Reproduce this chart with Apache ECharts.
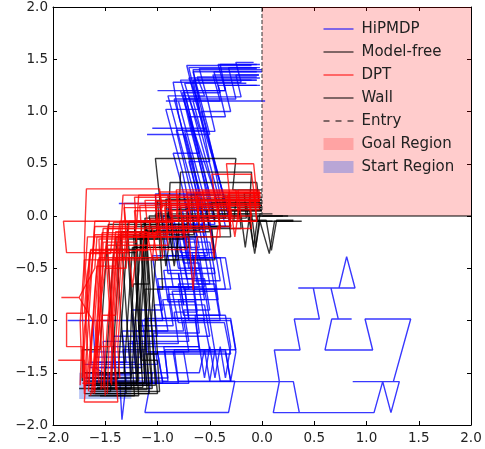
<!DOCTYPE html>
<html>
<head>
<meta charset="utf-8">
<script src="https://cdn.jsdelivr.net/npm/echarts@6/dist/echarts.min.js"></script>
<style>
html,body{margin:0;padding:0;background:#fff;}
#chart{width:485px;height:449px;}
</style>
</head>
<body>
<div id="chart"></div>
<script>
// ---- tick values ----
const xTicks = [-2, -1.5, -1, -0.5, 0, 0.5, 1, 1.5, 2];
const yTicks = [-2, -1.5, -1, -0.5, 0, 0.5, 1, 1.5, 2];

// ---- regions and walls ----
const goalRegion = [0, 0, 2, 2];          // x0, y0, x1, y1
const startRegion = [-1.75, -1.75, -1.25, -1.5];
const wallLine = [[0, 0], [2, 0]];
const entryLine = [[0, 0], [0, 2]];

// ---- HiPMDP trajectories ----
const hipmdpRuns = [
  [[-1.62,-1.58],[-0.9,-1.58],[-0.93,-1.28],[-0.5,-1.28],[-0.56,-0.98],[-0.85,-0.98],[-0.9,-0.68],[-0.6,-0.68],[-0.66,-0.38],[-0.52,-0.38],[-0.58,-0.08],[-0.45,-0.08],[-0.52,0.22],[-0.6,0.52],[-0.68,0.82],[-0.75,1.12],[-0.25,1.12],[-0.32,1.42],[-0.02,1.42]],
  [[-1.55,-1.5],[-1.2,-1.5],[-1.24,-1.2],[-0.7,-1.2],[-0.75,-0.9],[-0.5,-0.9],[-0.55,-0.6],[-0.72,-0.6],[-0.78,-0.3],[-0.6,-0.3],[-0.66,0.0],[-0.4,0.0],[-0.48,0.3],[-0.58,0.6],[-0.68,0.9],[-0.78,1.2],[-1.0,1.2],[-0.35,1.2],[-0.42,1.45],[-0.05,1.45]],
  [[-1.7,-1.62],[-1.1,-1.62],[-1.13,-1.32],[-0.3,-1.32],[-0.36,-1.02],[-0.8,-1.02],[-0.86,-0.72],[-0.45,-0.72],[-0.5,-0.42],[-0.7,-0.42],[-0.76,-0.12],[-0.5,-0.12],[-0.58,0.18],[-0.66,0.48],[-0.74,0.78],[-1.1,0.78],[-0.5,0.78],[-0.58,1.08],[-0.66,1.38],[0.0,1.38]],
  [[-1.6,-1.45],[-1.36,-1.6],[-1.34,-1.95],[-1.3,-1.6],[-1.0,-1.6],[-1.04,-1.3],[-0.45,-1.3],[-0.5,-1.0],[-0.7,-1.0],[-0.74,-0.7],[-0.35,-0.7],[-0.4,-0.4],[-0.6,-0.4],[-0.66,-0.1],[-0.35,-0.1],[-0.42,0.2],[-0.5,0.5],[-0.58,0.8],[-0.66,1.1],[-0.05,1.1],[0.03,1.1]],
  [[-1.65,-1.5],[-1.05,-1.5],[-1.12,-1.88],[-0.32,-1.88],[-0.26,-1.58],[-0.8,-1.58],[-0.84,-1.28],[-0.25,-1.28],[-0.3,-0.98],[-0.62,-0.98],[-0.66,-0.68],[-0.85,-0.68],[-0.9,-0.38],[-0.7,-0.38],[-0.75,-0.08],[-0.55,-0.08],[-0.6,0.22],[-0.68,0.52],[-0.76,0.82],[-0.84,1.12],[-0.6,1.12],[-0.65,1.3],[-0.05,1.3]],
  [[-1.65,-1.3],[-1.0,-1.3],[-0.95,-1.585],[0.30,-1.585],[0.357,-1.882],[0.108,-1.882],[0.166,-1.585],[0.118,-1.282],[0.364,-1.282],[0.309,-0.986],[0.549,-0.986],[0.491,-0.689],[0.347,-0.689],[0.89,-0.689],[0.81,-0.389],[0.737,-0.689],[0.66,-0.689],[0.73,-0.986],[0.858,-0.986],[0.667,-0.986],[0.603,-1.282],[1.059,-1.282],[0.986,-0.986],[1.423,-0.986],[1.257,-1.585],[0.868,-1.585],[1.314,-1.585],[1.234,-1.882],[1.155,-1.585],[1.072,-1.882],[0.204,-1.882]],
  [[-1.6,-1.4],[-1.3,-1.4],[-1.34,-1.1],[-0.9,-1.1],[-0.95,-0.8],[-0.55,-0.8],[-0.6,-0.5],[-0.8,-0.5],[-0.85,-0.2],[-0.62,-0.2],[-0.7,0.1],[-0.35,0.1],[-0.42,0.4],[-0.5,0.7],[-0.58,1.0],[-0.3,1.0],[-0.36,1.25],[-0.02,1.25]],
  [[-1.7,-1.55],[-1.4,-1.55],[-1.44,-1.25],[-0.6,-1.25],[-0.55,-1.55],[-0.5,-1.25],[-0.45,-1.55],[-0.4,-1.25],[-0.35,-1.55],[-0.3,-1.25],[-0.35,-0.95],[-0.75,-0.95],[-0.8,-0.65],[-0.5,-0.65],[-0.55,-0.35],[-0.78,-0.35],[-0.84,-0.05],[-0.6,-0.05],[-0.66,0.25],[-0.74,0.55],[-0.82,0.85],[-0.9,1.15],[-0.55,1.15],[-0.62,1.33],[-0.05,1.33]],
  [[-1.6,-1.3],[-1.62,-1.0],[-1.86,-1.0],[-0.55,-1.0],[-0.6,-0.7],[-0.3,-0.7],[-0.35,-0.4],[-0.72,-0.4],[-0.78,-0.1],[-0.5,-0.1],[-0.56,0.2],[-0.64,0.5],[-0.72,0.8],[-0.8,1.1],[-0.92,1.1],[-0.4,1.1],[-0.47,1.35],[-0.03,1.35]],
  [[-1.55,-1.6],[-0.95,-1.6],[-1.0,-1.3],[-0.7,-1.3],[-0.75,-1.0],[-0.4,-1.0],[-0.45,-0.7],[-0.65,-0.7],[-0.7,-0.4],[-0.45,-0.4],[-0.5,-0.1],[-0.3,-0.1],[-0.37,0.2],[-0.45,0.5],[-0.52,0.8],[-0.6,1.1],[-0.66,1.4],[0.0,1.4]],
  [[-1.65,-1.45],[-1.4,-1.45],[-1.42,-1.15],[-1.0,-1.15],[-1.03,-0.85],[-0.75,-0.85],[-0.8,-0.55],[-0.9,-0.55],[-0.93,-0.25],[-0.98,0.12],[-1.37,0.12],[-0.7,0.12],[-0.76,0.42],[-0.84,0.72],[-0.92,1.02],[-0.6,1.02],[-0.66,1.3],[-0.05,1.3]],
  [[-1.6,-1.35],[-1.15,-1.35],[-1.18,-1.05],[-0.85,-1.05],[-0.9,-0.75],[-0.55,-0.75],[-0.6,-0.45],[-0.75,-0.45],[-0.8,-0.15],[-1.0,-0.15],[-1.02,0.21],[-0.6,0.21],[-0.66,0.51],[-0.74,0.81],[-0.45,0.81],[-0.52,1.11],[-0.6,1.41],[-0.05,1.41]],
  [[-1.5,-1.6],[-0.7,-1.6],[-0.75,-1.3],[-1.1,-1.3],[-1.15,-1.0],[-0.95,-1.0],[-1.0,-0.7],[-0.7,-0.7],[-0.75,-0.4],[-0.55,-0.4],[-0.6,-0.1],[-0.85,-0.1],[-0.9,0.2],[-0.5,0.2],[-0.57,0.5],[-0.65,0.8],[-0.72,1.1],[-0.78,1.3],[-0.1,1.3]],
  [[-1.7,-1.5],[-1.5,-1.5],[-1.52,-1.2],[-1.2,-1.2],[-1.25,-0.9],[-0.95,-0.9],[-1.0,-0.6],[-0.65,-0.6],[-0.7,-0.3],[-0.9,-0.3],[-0.95,0.0],[-0.7,0.0],[-0.77,0.3],[-0.85,0.6],[-0.6,0.6],[-0.67,0.9],[-0.75,1.2],[-0.35,1.2],[-0.4,1.45],[-0.02,1.45]],
  [[-1.62,-1.52],[-1.25,-1.52],[-1.28,-1.22],[-0.8,-1.22],[-0.84,-0.92],[-0.62,-0.92],[-0.66,-0.62],[-0.4,-0.62],[-0.45,-0.32],[-0.68,-0.32],[-0.72,-0.02],[-0.45,-0.02],[-0.52,0.28],[-0.6,0.58],[-0.68,0.88],[-0.76,1.18],[-0.4,1.18],[-0.46,1.38],[-0.05,1.38]],
  [[-1.7,-1.42],[-1.0,-1.42],[-1.04,-1.12],[-0.6,-1.12],[-0.64,-0.82],[-0.9,-0.82],[-0.94,-0.52],[-0.6,-0.52],[-0.65,-0.22],[-0.85,-0.22],[-0.9,0.08],[-0.6,0.08],[-0.66,0.38],[-0.73,0.68],[-0.8,0.98],[-0.85,1.28],[-0.2,1.28],[-0.25,1.47],[-0.08,1.47]],
  [[-1.6,-1.6],[-0.8,-1.6],[-0.85,-1.3],[-0.35,-1.3],[-0.3,-1.58],[-0.25,-1.3],[-0.3,-1.0],[-0.5,-1.0],[-0.55,-0.7],[-0.75,-0.7],[-0.8,-0.4],[-0.5,-0.4],[-0.55,-0.1],[-0.7,-0.1],[-0.75,0.2],[-0.4,0.2],[-0.46,0.5],[-0.54,0.84],[-1.05,0.84],[-0.6,0.84],[-0.7,1.14],[-0.2,1.14],[-0.25,1.35],[-0.03,1.35]],
  [[-1.55,-1.45],[-1.15,-1.45],[-1.18,-1.15],[-0.5,-1.15],[-0.55,-0.85],[-0.75,-0.85],[-0.8,-0.55],[-0.45,-0.55],[-0.5,-0.25],[-0.72,-0.25],[-0.76,0.05],[-0.5,0.05],[-0.56,0.35],[-0.63,0.65],[-0.7,0.95],[-0.35,0.95],[-0.42,1.25],[-0.05,1.25]],
  [[-1.68,-1.58],[-1.3,-1.58],[-1.33,-1.28],[-1.1,-1.28],[-1.12,-0.98],[-0.7,-0.98],[-0.74,-0.68],[-1.0,-0.68],[-1.05,-0.38],[-0.8,-0.38],[-0.85,-0.08],[-0.55,-0.08],[-0.62,0.22],[-0.7,0.52],[-0.5,0.52],[-0.56,0.82],[-0.63,1.12],[-0.7,1.42],[-0.05,1.42]],
  [[-1.6,-1.5],[-0.6,-1.5],[-0.55,-1.28],[-0.5,-1.58],[-0.45,-1.28],[-0.4,-1.58],[-0.3,-1.58],[-0.35,-1.28],[-0.6,-1.28],[-0.64,-0.98],[-0.95,-0.98],[-1.0,-0.68],[-0.55,-0.68],[-0.6,-0.38],[-0.85,-0.38],[-0.9,-0.08],[-0.62,-0.08],[-0.68,0.22],[-0.75,0.52],[-0.82,0.82],[-0.55,0.82],[-0.62,1.12],[-0.7,1.32],[-0.02,1.32]],
  [[-1.58,-1.55],[-0.9,-1.55],[-0.94,-1.25],[-0.6,-1.25],[-0.64,-0.95],[-0.4,-0.95],[-0.45,-0.65],[-0.62,-0.65],[-0.67,-0.35],[-0.45,-0.35],[-0.5,-0.05],[-0.3,-0.05],[-0.38,0.25],[-0.47,0.55],[-0.56,0.85],[-0.65,1.15],[-0.72,1.44],[-0.1,1.44]],
  [[-1.65,-1.4],[-1.2,-1.4],[-1.23,-1.1],[-0.75,-1.1],[-0.8,-0.8],[-0.42,-0.8],[-0.46,-0.5],[-0.7,-0.5],[-0.75,-0.2],[-0.55,-0.2],[-0.6,0.1],[-0.42,0.1],[-0.5,0.4],[-0.58,0.7],[-0.66,1.0],[-0.74,1.27],[-0.15,1.27]]
];

// ---- Model-free trajectories ----
const modelFreeRuns = [
  [[-1.65,-1.65],[-1.05,-1.65],[-1.08,-1.35],[-1.1,-1.05],[-1.12,-0.75],[-1.14,-0.45],[-1.16,-0.15],[-0.5,-0.15],[-0.53,0.05],[0.0,0.05]],
  [[-1.7,-1.7],[-1.0,-1.7],[-1.03,-1.4],[-1.05,-1.1],[-1.08,-0.8],[-1.1,-0.5],[-1.13,-0.05],[-0.12,-0.05],[-0.07,-0.36],[-0.02,-0.05],[0.07,-0.36],[0.12,-0.05],[0.38,-0.05]],
  [[-1.55,-1.6],[-1.2,-1.6],[-1.22,-1.3],[-1.24,-1.0],[-1.26,-0.7],[-1.28,-0.4],[-0.95,-0.4],[-0.98,-0.1],[-0.3,-0.1],[-0.32,0.1],[0.0,0.1]],
  [[-1.6,-1.55],[-1.5,-1.55],[-1.48,-1.25],[-1.46,-0.95],[-1.44,-0.65],[-1.42,-0.35],[-1.2,-0.35],[-1.22,-0.05],[-0.6,-0.05],[-0.62,0.15],[0.0,0.15]],
  [[-1.68,-1.6],[-1.12,-1.6],[-1.14,-1.3],[-1.16,-1.0],[-1.18,-0.7],[-1.2,-0.4],[-1.22,-0.1],[-0.95,-0.1],[-1.02,0.55],[-0.25,0.55],[-0.28,0.25],[0.0,0.25]],
  [[-1.6,-1.7],[-1.3,-1.7],[-1.32,-1.4],[-1.34,-1.1],[-1.36,-0.8],[-1.38,-0.5],[-1.4,-0.2],[-0.8,-0.2],[-0.78,0.42],[-0.1,0.42],[-0.12,0.1],[0.0,0.1]],
  [[-1.7,-1.5],[-1.15,-1.5],[-1.17,-1.2],[-1.19,-0.9],[-1.21,-0.6],[-1.23,-0.3],[-0.7,-0.3],[-0.72,0.0],[-0.12,0.0],[-0.08,-0.3],[-0.04,0.0],[0.25,0.0]],
  [[-1.62,-1.62],[-1.08,-1.62],[-1.1,-1.32],[-1.0,-1.32],[-1.02,-1.02],[-1.04,-0.72],[-1.06,-0.42],[-0.45,-0.42],[-0.48,-0.12],[-0.2,-0.12],[-0.22,0.08],[0.0,0.08]],
  [[-1.75,-1.65],[-1.25,-1.65],[-1.27,-1.35],[-1.29,-1.05],[-1.31,-0.75],[-1.33,-0.45],[-1.35,-0.15],[-0.9,-0.15],[-0.88,0.32],[-0.05,0.32],[-0.02,0.05]],
  [[-1.55,-1.72],[-1.18,-1.72],[-1.2,-1.42],[-1.22,-1.12],[-1.24,-0.82],[-1.26,-0.52],[-1.28,-0.22],[-0.75,-0.22],[-0.78,0.08],[0.0,0.08]],
  [[-1.72,-1.58],[-1.72,-1.28],[-1.55,-1.28],[-1.53,-0.98],[-1.51,-0.68],[-1.49,-0.38],[-1.47,-0.08],[-1.0,-0.08],[-1.02,0.12],[-0.15,0.12],[-0.13,-0.04],[0.04,-0.04],[0.09,-0.33],[0.14,-0.04],[0.3,-0.04]],
  [[-1.45,-1.6],[-1.12,-1.6],[-1.13,-1.3],[-1.1,-1.0],[-1.12,-0.7],[-0.95,-0.7],[-0.97,-0.4],[-0.99,-0.1],[-0.4,-0.1],[-0.42,0.02],[0.0,0.02]],
  [[-1.65,-1.68],[-0.98,-1.68],[-1.0,-1.38],[-1.15,-1.38],[-1.17,-1.08],[-1.19,-0.78],[-1.21,-0.48],[-1.23,-0.18],[-0.65,-0.18],[-0.68,0.2],[-0.02,0.2]],
  [[-1.58,-1.52],[-1.4,-1.52],[-1.42,-1.22],[-1.44,-0.92],[-1.46,-0.62],[-1.48,-0.32],[-1.1,-0.32],[-1.12,-0.02],[-0.35,-0.02],[-0.38,0.18],[0.0,0.18]],
  [[-1.62,-1.66],[-1.1,-1.66],[-1.12,-1.36],[-1.11,-1.06],[-1.13,-0.76],[-1.15,-0.46],[-1.17,-0.16],[-0.85,-0.16],[-0.88,0.06],[-0.12,0.06],[-0.1,-0.05],[0.3,-0.05]],
  [[-1.7,-1.62],[-1.2,-1.62],[-1.18,-1.32],[-1.16,-1.02],[-1.14,-0.72],[-1.12,-0.42],[-1.1,-0.12],[-0.55,-0.12],[-0.58,0.1],[0.0,0.1]],
  [[-1.5,-1.68],[-1.45,-1.68],[-1.43,-1.38],[-1.41,-1.08],[-1.39,-0.78],[-1.37,-0.48],[-1.35,-0.18],[-1.05,-0.18],[-1.08,0.0],[-0.2,0.0],[-0.16,-0.3],[-0.12,0.0],[0.2,0.0]],
  [[-1.68,-1.55],[-1.25,-1.55],[-1.26,-1.25],[-1.25,-0.95],[-1.23,-0.65],[-1.08,-0.65],[-1.1,-0.35],[-1.12,-0.05],[-0.45,-0.05],[-0.48,0.13],[0.0,0.13]],
  [[-1.6,-1.6],[-1.05,-1.6],[-1.07,-1.3],[-1.09,-1.0],[-1.07,-0.7],[-1.09,-0.4],[-1.11,-0.1],[-0.98,-0.1],[-1.0,0.15],[-0.25,0.15],[-0.27,-0.05],[0.1,-0.05]],
  [[-1.55,-1.5],[-1.32,-1.5],[-1.3,-1.2],[-1.28,-0.9],[-1.26,-0.6],[-1.24,-0.3],[-0.85,-0.3],[-0.88,-0.02],[-0.15,-0.02],[-0.17,0.22],[0.0,0.22]],
  [[-1.62,-1.7],[-1.08,-1.7],[-1.1,-1.4],[-1.12,-1.1],[-1.1,-0.8],[-1.12,-0.5],[-1.14,-0.2],[-0.95,-0.2],[-0.92,-0.48],[-0.88,-0.2],[-0.84,-0.48],[-0.8,-0.2],[-0.3,-0.2],[-0.32,0.05],[0.0,0.05]],
  [[-1.7,-1.58],[-1.18,-1.58],[-1.19,-1.28],[-1.21,-0.98],[-1.19,-0.68],[-1.17,-0.38],[-1.15,-0.08],[-0.7,-0.08],[-0.72,0.12],[0.0,0.12]],
  [[-1.58,-1.64],[-1.14,-1.64],[-1.16,-1.34],[-1.18,-1.04],[-1.16,-0.74],[-1.14,-0.44],[-1.12,-0.14],[-0.6,-0.14],[-0.62,0.06],[0.0,0.06]],
  [[-1.66,-1.72],[-1.22,-1.72],[-1.24,-1.42],[-1.22,-1.12],[-1.2,-0.82],[-1.18,-0.52],[-1.2,-0.22],[-1.0,-0.22],[-1.02,0.02],[-0.1,0.02],[-0.06,-0.3],[-0.02,0.02],[0.1,0.02]],
  [[-1.55,-1.56],[-1.38,-1.56],[-1.36,-1.26],[-1.34,-0.96],[-1.32,-0.66],[-1.3,-0.36],[-1.28,-0.06],[-0.9,-0.06],[-0.92,0.16],[0.0,0.16]],
  [[-1.64,-1.62],[-1.02,-1.62],[-1.04,-1.32],[-1.06,-1.02],[-1.04,-0.72],[-1.02,-0.42],[-0.8,-0.42],[-0.82,-0.12],[-0.4,-0.12],[-0.42,0.1],[0.0,0.1]]
];

// ---- DPT trajectories ----
const dptRuns = [
  [[-1.68,-1.62],[-1.65,-1.32],[-1.62,-1.02],[-1.6,-0.72],[-1.57,-0.42],[-1.0,-0.42],[-1.05,-0.12],[-0.4,-0.12],[-0.45,0.18],[-0.02,0.18]],
  [[-1.62,-1.7],[-1.6,-1.4],[-1.56,-1.1],[-1.54,-0.8],[-1.5,-0.5],[-1.3,-0.5],[-1.28,-0.2],[-0.85,-0.2],[-0.88,0.1],[-0.05,0.1]],
  [[-1.72,-1.55],[-1.7,-1.25],[-1.68,-0.95],[-1.66,-0.65],[-1.64,-0.32],[-1.28,-0.32],[-1.24,-0.68],[-1.2,-0.32],[-0.72,-0.32],[-0.76,-0.02],[-0.2,-0.02],[-0.23,0.25],[-0.03,0.25]],
  [[-1.6,-1.68],[-1.58,-1.38],[-1.56,-1.08],[-1.54,-0.78],[-1.52,-0.48],[-1.5,-0.35],[-1.46,-0.05],[-1.9,-0.05],[-1.87,-0.35],[-1.3,-0.35],[-1.27,-0.05],[-0.6,-0.05],[-0.64,0.22],[-0.02,0.22]],
  [[-1.7,-1.5],[-1.71,-1.2],[-1.72,-0.9],[-1.7,-0.6],[-1.7,-0.3],[-1.69,0.0],[-1.68,0.26],[-0.98,0.26],[-0.95,-0.05],[-0.3,-0.05],[-0.33,0.2],[-0.03,0.2]],
  [[-1.7,-1.65],[-1.72,-1.25],[-1.87,-1.25],[-1.87,-0.93],[-1.7,-0.93],[-1.68,-0.63],[-1.64,-0.33],[-1.1,-0.33],[-1.07,-0.03],[-0.5,-0.03],[-0.52,0.15],[-0.02,0.15]],
  [[-1.66,-1.6],[-1.64,-1.3],[-1.62,-1.0],[-1.75,-0.78],[-1.92,-0.78],[-1.75,-0.78],[-1.6,-0.5],[-1.58,-0.2],[-0.7,-0.2],[-0.66,-0.71],[-0.62,-0.2],[-0.4,-0.2],[-0.42,0.12],[-0.03,0.12]],
  [[-1.7,-1.7],[-1.7,-1.38],[-1.95,-1.38],[-1.72,-1.38],[-1.7,-1.08],[-1.66,-0.78],[-1.63,-0.48],[-1.6,-0.18],[-1.0,-0.18],[-0.97,0.1],[-0.3,0.1],[-0.34,0.5],[-0.08,0.5],[-0.05,0.2],[-0.02,0.2]],
  [[-1.68,-1.5],[-1.7,-1.78],[-1.38,-1.78],[-1.4,-1.48],[-1.42,-1.18],[-1.44,-0.88],[-1.46,-0.58],[-1.48,-0.28],[-0.9,-0.28],[-0.93,0.08],[-0.3,0.08],[-0.26,-0.2],[-0.22,0.08],[-0.02,0.08]],
  [[-1.58,-1.55],[-1.55,-1.25],[-1.53,-0.95],[-1.4,-0.95],[-1.38,-0.65],[-1.36,-0.35],[-1.33,-0.05],[-0.8,-0.05],[-0.82,0.25],[-0.25,0.25],[-0.22,-0.05],[-0.05,-0.05],[-0.08,0.22],[-0.01,0.22]],
  [[-1.52,-1.65],[-1.5,-1.35],[-1.48,-1.05],[-1.45,-0.75],[-1.43,-0.45],[-1.4,-0.15],[-1.1,-0.15],[-1.05,-0.42],[-1.02,-0.15],[-0.55,-0.15],[-0.58,0.15],[-0.02,0.15]],
  [[-1.45,-1.6],[-1.44,-1.3],[-1.42,-1.0],[-1.4,-0.7],[-1.38,-0.4],[-1.35,-0.1],[-1.2,-0.1],[-1.18,0.2],[-0.9,0.2],[-0.88,0.0],[-0.1,0.0],[-0.12,0.18],[-0.01,0.18]],
  [[-1.64,-1.72],[-1.6,-1.45],[-1.58,-1.15],[-1.56,-0.85],[-1.53,-0.55],[-1.52,-0.25],[-1.2,-0.25],[-1.22,0.05],[-0.7,0.05],[-0.72,0.22],[-0.04,0.22]],
  [[-1.36,-1.55],[-1.38,-1.25],[-1.36,-0.95],[-1.34,-0.65],[-1.32,-0.35],[-1.62,-0.35],[-1.6,-0.05],[-1.1,-0.05],[-1.12,0.15],[-0.45,0.15],[-0.48,0.4],[-0.1,0.4],[-0.06,0.1],[-0.01,0.1]],
  [[-1.72,-1.6],[-1.6,-1.6],[-1.58,-1.3],[-1.6,-1.0],[-1.58,-0.7],[-1.56,-0.4],[-0.95,-0.4],[-0.98,-0.1],[-0.6,-0.1],[-0.62,0.2],[-0.02,0.2]],
  [[-1.48,-1.7],[-1.47,-1.4],[-1.46,-1.1],[-1.44,-0.8],[-1.42,-0.5],[-1.4,-0.2],[-0.75,-0.2],[-0.78,0.1],[-0.02,0.1]],
  [[-1.66,-1.68],[-1.64,-1.38],[-1.62,-1.08],[-1.6,-0.78],[-1.58,-0.48],[-1.4,-0.48],[-1.37,-0.18],[-0.9,-0.18],[-0.93,0.12],[-0.02,0.12]],
  [[-1.56,-1.6],[-1.57,-1.3],[-1.58,-1.0],[-1.44,-1.0],[-1.42,-0.7],[-1.4,-0.4],[-1.15,-0.4],[-1.12,-0.1],[-0.5,-0.1],[-0.46,-0.4],[-0.42,-0.1],[-0.3,-0.1],[-0.32,0.16],[-0.02,0.16]],
  [[-1.74,-1.62],[-1.73,-1.32],[-1.74,-1.02],[-1.72,-0.72],[-1.7,-0.42],[-1.5,-0.42],[-1.48,-0.12],[-1.2,-0.12],[-1.22,0.18],[-0.6,0.18],[-0.62,-0.05],[-0.05,-0.05],[-0.07,0.2],[-0.01,0.2]],
  [[-1.5,-1.72],[-1.51,-1.42],[-1.52,-1.12],[-1.54,-0.82],[-1.55,-0.52],[-1.56,-0.22],[-1.3,-0.22],[-1.32,0.08],[-0.95,0.08],[-0.98,0.23],[-0.02,0.23]],
  [[-1.62,-1.55],[-1.6,-1.25],[-1.45,-1.25],[-1.43,-0.95],[-1.41,-0.65],[-1.39,-0.35],[-1.36,-0.05],[-1.0,-0.05],[-1.02,0.2],[-0.35,0.2],[-0.3,-0.12],[-0.1,-0.12],[-0.12,0.14],[-0.02,0.14]],
  [[-1.7,-1.6],[-1.68,-1.3],[-1.66,-1.0],[-1.64,-0.7],[-1.62,-0.4],[-1.6,-0.1],[-1.35,-0.1],[-1.33,0.2],[-0.8,0.2],[-0.82,0.0],[-0.3,0.0],[-0.32,0.22],[-0.02,0.22]],
  [[-1.44,-1.62],[-1.43,-1.32],[-1.45,-1.02],[-1.47,-0.72],[-1.49,-0.42],[-1.32,-0.42],[-1.3,-0.12],[-0.68,-0.12],[-0.7,0.16],[-0.02,0.16]],
  [[-1.6,-1.7],[-1.63,-1.4],[-1.65,-1.1],[-1.67,-0.8],[-1.69,-0.5],[-1.67,-0.2],[-1.15,-0.2],[-1.17,0.1],[-0.45,0.1],[-0.02,0.1]],
  [[-1.54,-1.66],[-1.53,-1.36],[-1.55,-1.06],[-1.57,-0.76],[-1.55,-0.46],[-1.53,-0.16],[-1.0,-0.16],[-1.02,0.14],[-0.02,0.14]],
  [[-1.68,-1.56],[-1.67,-1.26],[-1.69,-0.96],[-1.67,-0.66],[-1.65,-0.36],[-1.45,-0.36],[-1.42,-0.06],[-0.85,-0.06],[-0.88,0.18],[-0.02,0.18]],
  [[-1.4,-1.66],[-1.41,-1.36],[-1.39,-1.06],[-1.37,-0.76],[-1.35,-0.46],[-1.33,-0.16],[-0.7,-0.16],[-0.72,0.06],[-0.02,0.06]],
  [[-1.62,-1.62],[-1.6,-1.32],[-1.58,-1.02],[-1.56,-0.72],[-1.54,-0.42],[-1.52,-0.12],[-1.3,-0.12],[-1.32,0.12],[-0.55,0.12],[-0.57,0.24],[-0.02,0.24]]
];

// ---- styles ----
const FONT = 'DejaVu Sans';
const fmt = v => (v < 0 ? '\u2212' : '') + Math.abs(v).toFixed(1);

function rectSeries(name, rect, color, z) {
  return {
    type: 'custom', name: name, z: z, silent: true,
    data: [rect],
    itemStyle: { color: color },
    encode: { x: [0, 2], y: [1, 3] },
    renderItem: function (params, api) {
      const p0 = api.coord([api.value(0), api.value(3)]);
      const p1 = api.coord([api.value(2), api.value(1)]);
      return {
        type: 'rect',
        shape: { x: p0[0], y: p0[1], width: p1[0] - p0[0], height: p1[1] - p0[1] },
        style: { fill: api.visual('color') }
      };
    }
  };
}

function runSeries(name, runs, color, z) {
  return runs.map(r => ({
    type: 'line', name: name, data: r, symbol: 'none', showSymbol: false,
    z: z, silent: true, clip: true,
    lineStyle: { color: color, width: 1.4, opacity: 0.78 },
    itemStyle: { color: color }
  }));
}

const series = [].concat(
  [rectSeries('Goal Region', goalRegion, 'rgba(255,0,0,0.2)', 1)],
  [rectSeries('Start Region', startRegion, 'rgba(80,110,230,0.4)', 1)],
  runSeries('HiPMDP', hipmdpRuns, '#0000ff', 2),
  runSeries('Model-free', modelFreeRuns, '#000000', 3),
  runSeries('DPT', dptRuns, '#ff0000', 4),
  [{
    type: 'line', name: 'Wall', data: wallLine, symbol: 'none', z: 5, silent: true,
    lineStyle: { color: '#000', width: 1 }, itemStyle: { color: '#000' }
  }, {
    type: 'line', name: 'Entry', data: entryLine, symbol: 'none', z: 5, silent: true,
    lineStyle: { color: '#333', width: 1, type: [4, 2] }, itemStyle: { color: '#333' }
  }]
);

const axisCommon = {
  type: 'value', min: -2, max: 2, interval: 0.5,
  splitLine: { show: false },
  axisLine: { onZero: false, lineStyle: { color: '#000', width: 1 } },
  axisTick: { inside: true, length: 4, lineStyle: { color: '#000' } }
};

const hideSym = { opacity: 0 };
const option = {
  animation: false,
  backgroundColor: '#fff',
  grid: { left: 53, right: 14, top: 7, bottom: 24, containLabel: false },
  xAxis: [
    Object.assign({}, axisCommon, { position: 'bottom',
      axisLabel: { formatter: fmt, color: '#222', fontSize: 13.5, fontFamily: FONT, margin: 6 } }),
    Object.assign({}, axisCommon, { position: 'top', axisLabel: { show: false } })
  ],
  yAxis: [
    Object.assign({}, axisCommon, { position: 'left',
      axisLabel: { formatter: fmt, color: '#222', fontSize: 13.5, fontFamily: FONT, margin: 5 } }),
    Object.assign({}, axisCommon, { position: 'right', axisLabel: { show: false } })
  ],
  legend: {
    orient: 'vertical', left: 318, top: 16,
    itemWidth: 30, itemHeight: 12, itemGap: 7,
    selectedMode: false,
    textStyle: { fontSize: 15, fontFamily: FONT, color: '#222', lineHeight: 16, padding: [0, 0, 0, 3] },
    data: [
      { name: 'HiPMDP', itemStyle: hideSym, lineStyle: { width: 1, opacity: 1, color: '#0000ff' } },
      { name: 'Model-free', itemStyle: hideSym, lineStyle: { width: 1, opacity: 1, color: '#000' } },
      { name: 'DPT', itemStyle: hideSym, lineStyle: { width: 1, opacity: 1, color: '#ff0000' } },
      { name: 'Wall', itemStyle: hideSym, lineStyle: { width: 1, opacity: 1, color: '#000' } },
      { name: 'Entry', itemStyle: hideSym, lineStyle: { width: 1, opacity: 1, color: '#000', type: [6, 6] } },
      { name: 'Goal Region', icon: 'rect' }, { name: 'Start Region', icon: 'rect' }
    ]
  },
  series: series
};

const chart = echarts.init(document.getElementById('chart'), null, { renderer: 'canvas' });
chart.setOption(option);
</script>
</body>
</html>
